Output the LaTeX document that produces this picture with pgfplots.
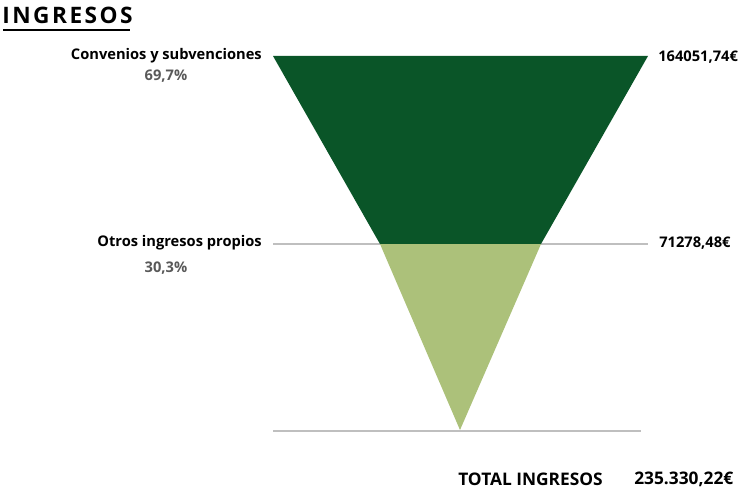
\documentclass[border=0pt]{standalone}
\usepackage{pgfplots}
\pgfplotsset{compat=1.18}
\usepackage{fontspec}
\setmainfont{Open Sans}
\newfontfamily\titlefont[LetterSpace=11]{Open Sans}
\definecolor{darkgreen}{HTML}{0A5528}
\definecolor{lightgreen}{HTML}{ACC17A}
\definecolor{pctgray}{HTML}{595959}
\definecolor{linegray}{HTML}{BFBFBF}
\tikzset{lbl/.style={inner sep=0pt, font=\fontsize{11}{13}\selectfont\bfseries}}
\begin{document}
\begin{tikzpicture}
\begin{axis}[
    scale only axis,
    width=560.25pt, height=370.5pt,
    xmin=0, xmax=747, ymin=0, ymax=494,
    y dir=reverse,
    hide axis,
    clip=false,
]
% guide lines
\addplot[linegray, line width=0.8pt] coordinates {(273,244) (648,244)};
\addplot[linegray, line width=0.8pt] coordinates {(273,431) (641,431)};
% funnel
\addplot[fill=darkgreen, draw=none] coordinates {(273,56) (648,56) (541,244) (380,244)} -- cycle;
\addplot[fill=lightgreen, draw=none] coordinates {(380,244) (541,244) (460,430)} -- cycle;
% title
\node[anchor=west, inner sep=0pt, font=\fontsize{17}{19}\titlefont\bfseries] at (axis cs:2,15) {INGRESOS};
\addplot[black, line width=1.6pt] coordinates {(3,30) (130,30)};
% labels
\node[lbl, anchor=east] at (axis cs:262,56) {Convenios y subvenciones};
\node[lbl, text=pctgray] at (axis cs:166,76) {69,7\%};
\node[lbl, anchor=west] at (axis cs:658,57) {164051,74€};
\node[lbl, anchor=east] at (axis cs:262,243) {Otros ingresos propios};
\node[lbl, text=pctgray] at (axis cs:166,268) {30,3\%};
\node[lbl, anchor=west] at (axis cs:659,243) {71278,48€};
\node[lbl, anchor=west, font=\fontsize{13}{15}\selectfont\bfseries] at (axis cs:458,479) {TOTAL INGRESOS};
\node[lbl, anchor=west, font=\fontsize{13}{15}\selectfont\bfseries] at (axis cs:634,479) {235.330,22€};
\end{axis}
\pgfresetboundingbox
\path (0,0) rectangle (560.25pt,370.5pt);
\end{tikzpicture}
\end{document}
